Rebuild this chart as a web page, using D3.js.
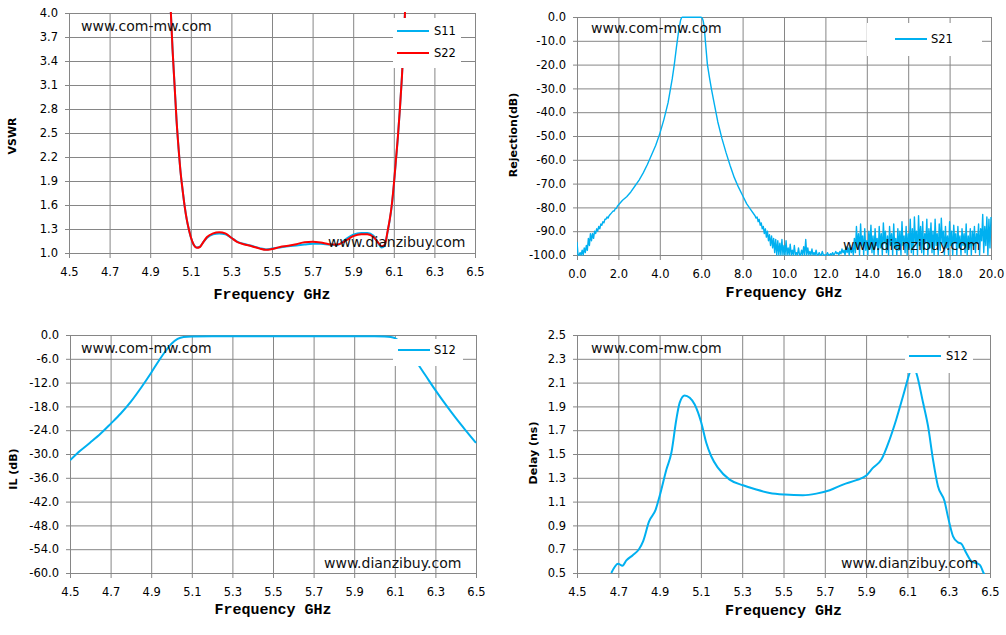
<!DOCTYPE html>
<html>
<head>
<meta charset="utf-8">
<script src="https://cdn.jsdelivr.net/npm/d3@7"></script>
<style>
  body { margin: 0; background: #fff; }
  svg text { font-family: "DejaVu Sans", sans-serif; }
</style>
</head>
<body>
<svg id="canvas" width="1006" height="635"></svg>
<script>
// ---- data ----
const vswrFreq = [4.98, 5.00, 5.01, 5.02, 5.03, 5.04, 5.05, 5.06, 5.07, 5.08, 5.09, 5.10, 5.115, 5.13, 5.145, 5.16, 5.18, 5.21, 5.24, 5.27,
  5.30, 5.33, 5.36, 5.40, 5.44, 5.47, 5.50, 5.54, 5.58, 5.62, 5.66, 5.70, 5.74, 5.78, 5.82, 5.86, 5.90, 5.94, 5.97, 6.00,
  6.02, 6.04, 6.055, 6.07, 6.08, 6.09, 6.10, 6.11, 6.12, 6.13, 6.14, 6.15, 6.16];
const s11Vswr = [4.8, 4.1, 3.55, 3.1, 2.65, 2.3, 2.0, 1.78, 1.58, 1.42, 1.3, 1.2, 1.1, 1.07, 1.08, 1.13, 1.19, 1.235, 1.245, 1.235,
  1.19, 1.14, 1.115, 1.09, 1.06, 1.045, 1.055, 1.07, 1.085, 1.095, 1.105, 1.115, 1.115, 1.105, 1.1, 1.165, 1.23, 1.25, 1.25, 1.215,
  1.14, 1.07, 1.09, 1.27, 1.41, 1.59, 1.84, 2.14, 2.44, 2.8, 3.2, 3.7, 4.3];
const s22Vswr = [4.8, 4.1, 3.55, 3.1, 2.65, 2.3, 2.0, 1.78, 1.58, 1.42, 1.3, 1.2, 1.1, 1.065, 1.075, 1.13, 1.2, 1.245, 1.26, 1.245,
  1.19, 1.135, 1.11, 1.085, 1.055, 1.04, 1.05, 1.075, 1.09, 1.11, 1.135, 1.14, 1.13, 1.11, 1.105, 1.15, 1.21, 1.235, 1.235, 1.2,
  1.14, 1.085, 1.1, 1.28, 1.42, 1.6, 1.85, 2.15, 2.45, 2.8, 3.2, 3.7, 4.3];

// S21 wideband: smooth skirt points plus three noisy stretches sampled every 0.05 GHz
const s21Freq = [2.2, 2.4, 2.6, 2.8, 3.0, 3.2, 3.4, 3.6, 3.8, 4.0, 4.2, 4.4, 4.6, 4.7, 4.8, 4.9, 5.0, 5.05, 5.1, 5.5,
  6.0, 6.05, 6.1, 6.15, 6.2, 6.3, 6.4, 6.5, 6.6, 6.8, 7.0, 7.2, 7.4, 7.6, 7.8, 8.0, 8.2, 8.4, 8.6];
const s21Rej = [-77, -75.5, -73.5, -71, -68.5, -65.5, -62, -58, -54, -49, -43, -36, -26, -20, -13, -6.5, -1.5, -0.3, -0.1, -0.1,
  -0.1, -0.4, -1.8, -4.5, -10, -20, -25.5, -30.5, -35, -44, -51, -57, -62.5, -67.5, -71.5, -75, -78.5, -81, -83.5];
const s21LowStart = 0.0;
const s21Low = [-94.5, -100, -100, -99, -100, -98, -100, -97, -99, -96, -98, -93, -96, -91, -94, -91, -93, -90, -91, -89,
  -90, -88, -89, -87, -87.5, -86, -86.5, -85, -85, -84, -84.5, -83.5, -83, -82.5, -82, -81.5, -81.5, -80.5, -80.5, -79.5, -79];
const s21MidStart = 8.65;
const s21Mid = [-84.5, -84, -86, -85, -87.5, -86.5, -89, -88, -91, -89, -92.5, -90, -94, -91.5, -96, -92, -97, -93, -99, -93.5,
  -100, -94, -100, -95, -100, -93.5, -100, -96, -100, -94, -100, -97, -100, -95.5, -100, -98, -100, -96, -100, -99,
  -100, -97, -100, -100, -98, -100, -96.5, -100, -93.5, -100, -97, -100, -98.5, -100, -97.5, -100, -99, -100, -98, -100,
  -100, -99, -100, -100, -98.5, -100, -100, -100, -100, -99, -100, -100, -99.5, -100, -99, -100, -99.5, -98.5, -99.5, -99,
  -100, -98.5, -99.5, -97.5, -99, -98, -100, -96.5, -99, -97, -100, -96, -99, -97];
const s21HighStart = 13.35;
const s21High = [-100, -93, -99, -88, -97, -91, -100, -87, -96, -92, -100, -89, -98, -94, -100, -90, -97, -87.5, -99, -92,
  -100, -89, -96, -93, -100, -88, -97, -91, -100, -86.5, -95, -90, -99, -92, -100, -88, -96, -91, -100, -87,
  -97, -93, -100, -89, -98, -90, -100, -86, -96, -92, -99, -88, -100, -91, -97, -85, -99, -89, -100, -84,
  -95, -90, -100, -83.5, -96, -88, -99, -86, -100, -91, -95, -85, -100, -89, -97, -86.5, -99, -90, -100, -85,
  -96, -91, -100, -87, -98, -84.5, -95, -90, -100, -88, -97, -92, -100, -86, -96, -90, -100, -87.5, -95, -91,
  -100, -88, -97, -92, -100, -89, -96, -91, -99, -87, -100, -92, -97, -89, -100, -90, -96, -88, -99, -91,
  -95, -87, -100, -89, -94, -83, -99, -88, -96, -84, -100, -85, -97, -84];

const ilFreq = [4.50, 4.55, 4.60, 4.65, 4.70, 4.75, 4.80, 4.85, 4.90, 4.94, 4.97, 5.00, 5.03, 5.06, 5.10, 5.20, 5.40, 5.60, 5.80, 6.00,
  6.05, 6.08, 6.10, 6.13, 6.16, 6.20, 6.25, 6.30, 6.35, 6.40, 6.45, 6.50];
const ilS12 = [-31.6, -29.2, -27.1, -24.9, -22.4, -19.8, -16.8, -13.3, -9.5, -6.3, -4.1, -2.2, -1.0, -0.5, -0.35, -0.3, -0.3, -0.3, -0.3, -0.3,
  -0.35, -0.5, -0.8, -1.9, -3.6, -6.3, -10.1, -13.9, -17.5, -20.9, -24.1, -27.2];

const delayFreq = [4.666, 4.699, 4.72, 4.739, 4.77, 4.80, 4.82, 4.849, 4.881, 4.90, 4.933, 4.957, 4.981, 4.997, 5.021, 5.046, 5.07, 5.102, 5.126, 5.15,
  5.183, 5.239, 5.304, 5.368, 5.433, 5.506, 5.594, 5.659, 5.724, 5.788, 5.853, 5.901, 5.933, 5.974, 6.014, 6.046, 6.079, 6.111, 6.125, 6.143,
  6.176, 6.2, 6.224, 6.248, 6.28, 6.296, 6.321, 6.345, 6.361, 6.385, 6.41, 6.45, 6.469, 6.48];
const delayS12 = [0.5, 0.578, 0.561, 0.606, 0.65, 0.70, 0.766, 0.934, 1.033, 1.145, 1.369, 1.51, 1.79, 1.93, 1.992, 1.972, 1.916, 1.762, 1.594, 1.481,
  1.383, 1.285, 1.237, 1.201, 1.173, 1.159, 1.153, 1.167, 1.195, 1.243, 1.28, 1.319, 1.383, 1.453, 1.622, 1.79, 1.987, 2.183, 2.25, 2.183,
  1.93, 1.734, 1.453, 1.229, 1.103, 0.976, 0.808, 0.757, 0.746, 0.668, 0.598, 0.57, 0.5, 0.46];

const bandTicks = [4.5, 4.7, 4.9, 5.1, 5.3, 5.5, 5.7, 5.9, 6.1, 6.3, 6.5];
const wideTicks = [0, 2, 4, 6, 8, 10, 12, 14, 16, 18, 20];
const vswrTicks = [1.0, 1.3, 1.6, 1.9, 2.2, 2.5, 2.8, 3.1, 3.4, 3.7, 4.0];
const rejTicks = [0, -10, -20, -30, -40, -50, -60, -70, -80, -90, -100];
const ilTicks = [0, -6, -12, -18, -24, -30, -36, -42, -48, -54, -60];
const delayTicks = [0.5, 0.7, 0.9, 1.1, 1.3, 1.5, 1.7, 1.9, 2.1, 2.3, 2.5];

const blue = "#00B0F0";
const red = "#FF0000";
const gridColor = "#868686";

let zipPts = (xs, ys) => xs.map((f, i) => [f, ys[i]]);
let sampled = (start, vals) => vals.map((v, i) => [start + i * 0.05, v]);

let s21Trace = sampled(s21LowStart, s21Low)
  .concat(zipPts(s21Freq, s21Rej))
  .concat(sampled(s21MidStart, s21Mid))
  .concat(sampled(s21HighStart, s21High))
  .sort((a, b) => a[0] - b[0]);

let panels = [
  {
    id: "vswr", left: 69, right: 475, top: 13, bottom: 253,
    xDomain: [4.5, 6.5], xTicks: bandTicks, yDomain: [1, 4], yTicks: vswrTicks,
    yLabel: "VSWR", yLabelX: 12, yLabelY: 136, xLabelY: 299,
    series: [
      { name: "S11", color: blue, width: 2, curve: d3.curveMonotoneX, pts: zipPts(vswrFreq, s11Vswr) },
      { name: "S22", color: red, width: 2, curve: d3.curveMonotoneX, pts: zipPts(vswrFreq, s22Vswr) }
    ],
    legend: { x0: 393, x1: 461, y0: 18, y1: 68, rows: [31, 53], lineX0: 397, lineX1: 429, textX: 434 },
    marks: [{ x: 81, y: 31 }, { x: 328, y: 247 }]
  },
  {
    id: "rej", left: 577, right: 991, top: 17, bottom: 255,
    xDomain: [0, 20], xTicks: wideTicks, yDomain: [-100, 0], yTicks: rejTicks,
    yLabel: "Rejection(dB)", yLabelX: 513, yLabelY: 135, xLabelY: 297,
    series: [
      { name: "S21", color: blue, width: 1.4, curve: d3.curveLinear, pts: s21Trace }
    ],
    legend: { x0: 867, x1: 982, y0: 23, y1: 56, rows: [39], lineX0: 895, lineX1: 927, textX: 931 },
    marks: [{ x: 591, y: 33 }, { x: 843, y: 250 }]
  },
  {
    id: "il", left: 70, right: 476, top: 335, bottom: 573,
    xDomain: [4.5, 6.5], xTicks: bandTicks, yDomain: [-60, 0], yTicks: ilTicks,
    yLabel: "IL (dB)", yLabelX: 13, yLabelY: 469, xLabelY: 614,
    series: [
      { name: "S12", color: blue, width: 2, curve: d3.curveMonotoneX, pts: zipPts(ilFreq, ilS12) }
    ],
    legend: { x0: 393, x1: 463, y0: 339, y1: 366, rows: [350], lineX0: 398, lineX1: 430, textX: 434 },
    marks: [{ x: 81, y: 353 }, { x: 324, y: 568 }]
  },
  {
    id: "delay", left: 577, right: 990, top: 335, bottom: 573,
    xDomain: [4.5, 6.5], xTicks: bandTicks, yDomain: [0.5, 2.5], yTicks: delayTicks,
    yLabel: "Delay (ns)", yLabelX: 533, yLabelY: 453, xLabelY: 615,
    series: [
      { name: "S12", color: blue, width: 2, curve: d3.curveMonotoneX, pts: zipPts(delayFreq, delayS12) }
    ],
    legend: { x0: 905, x1: 973, y0: 338, y1: 373, rows: [356], lineX0: 909, lineX1: 941, textX: 946 },
    marks: [{ x: 591, y: 353 }, { x: 841, y: 568 }]
  }
];

let canvas = d3.select("#canvas");
// plain hyphen for negatives, like the original labels
let fmt = d3.formatLocale({ decimal: ".", thousands: ",", grouping: [3], currency: ["", ""], minus: "-" }).format(".1f");

let drawPanel = (p) => {
  let x = d3.scaleLinear().domain(p.xDomain).range([p.left, p.right]);
  let y = d3.scaleLinear().domain(p.yDomain).range([p.bottom, p.top]);
  let g = canvas.append("g").attr("class", p.id);

  // grid
  g.append("g")
    .attr("transform", `translate(0,${p.bottom})`)
    .call(d3.axisBottom(x).tickValues(p.xTicks).tickSize(-(p.bottom - p.top)).tickFormat(""))
    .call(s => s.select(".domain").remove());
  g.append("g")
    .attr("transform", `translate(${p.left},0)`)
    .call(d3.axisLeft(y).tickValues(p.yTicks).tickSize(-(p.right - p.left)).tickFormat(""))
    .call(s => s.select(".domain").remove());
  g.selectAll("line").attr("stroke", gridColor);

  // axes with short ticks and labels
  let xAxis = g.append("g")
    .attr("transform", `translate(0,${p.bottom})`)
    .call(d3.axisBottom(x).tickValues(p.xTicks).tickSize(5).tickSizeOuter(0).tickPadding(10).tickFormat(fmt));
  let yAxis = g.append("g")
    .attr("transform", `translate(${p.left},0)`)
    .call(d3.axisLeft(y).tickValues(p.yTicks).tickSize(4).tickSizeOuter(0).tickPadding(7).tickFormat(fmt));
  [xAxis, yAxis].forEach(a => {
    a.attr("font-family", null).attr("font-size", null);
    a.selectAll("line").attr("stroke", gridColor);
    a.select(".domain").attr("stroke", gridColor);
    a.selectAll("text").attr("fill", "#000").style("font-size", "11.5px");
  });

  // traces
  let clipId = "clip-" + p.id;
  g.append("clipPath").attr("id", clipId)
    .append("rect")
    .attr("x", p.left).attr("y", p.top - 1)
    .attr("width", p.right - p.left + 1).attr("height", p.bottom - p.top + 2);

  let line = d3.line().x(d => x(d[0])).y(d => y(d[1]));
  p.series.forEach(s => {
    g.append("path")
      .attr("clip-path", `url(#${clipId})`)
      .attr("d", line.curve(s.curve)(s.pts))
      .attr("fill", "none")
      .attr("stroke", s.color)
      .attr("stroke-width", s.width)
      .attr("stroke-linejoin", "round");
  });

  // watermarks
  g.append("text").attr("x", p.marks[0].x).attr("y", p.marks[0].y)
    .style("font-size", "14px").attr("fill", "#111").text("www.com-mw.com");
  g.append("text").attr("x", p.marks[1].x).attr("y", p.marks[1].y)
    .style("font-size", "14px").attr("fill", "#111").text("www.dianzibuy.com");

  // legend
  let lg = p.legend;
  g.append("rect")
    .attr("x", lg.x0).attr("y", lg.y0)
    .attr("width", lg.x1 - lg.x0).attr("height", lg.y1 - lg.y0)
    .attr("fill", "#fff");
  p.series.forEach((s, i) => {
    g.append("line")
      .attr("x1", lg.lineX0).attr("x2", lg.lineX1)
      .attr("y1", lg.rows[i]).attr("y2", lg.rows[i])
      .attr("stroke", s.color).attr("stroke-width", 2);
    g.append("text")
      .attr("x", lg.textX).attr("y", lg.rows[i]).attr("dy", "0.36em")
      .style("font-size", "11.5px").attr("fill", "#000")
      .text(s.name);
  });

  // axis titles
  g.append("text")
    .attr("x", (p.left + p.right) / 2).attr("y", p.xLabelY)
    .attr("text-anchor", "middle")
    .style("font-family", "'Liberation Mono', monospace")
    .style("font-size", "15px").style("font-weight", "bold")
    .text("Frequency GHz");
  g.append("text")
    .attr("transform", `translate(${p.yLabelX},${p.yLabelY}) rotate(-90)`)
    .attr("text-anchor", "middle").attr("dy", "0.36em")
    .style("font-size", "11px").style("font-weight", "bold")
    .text(p.yLabel);
};

panels.forEach(drawPanel);
</script>
</body>
</html>
